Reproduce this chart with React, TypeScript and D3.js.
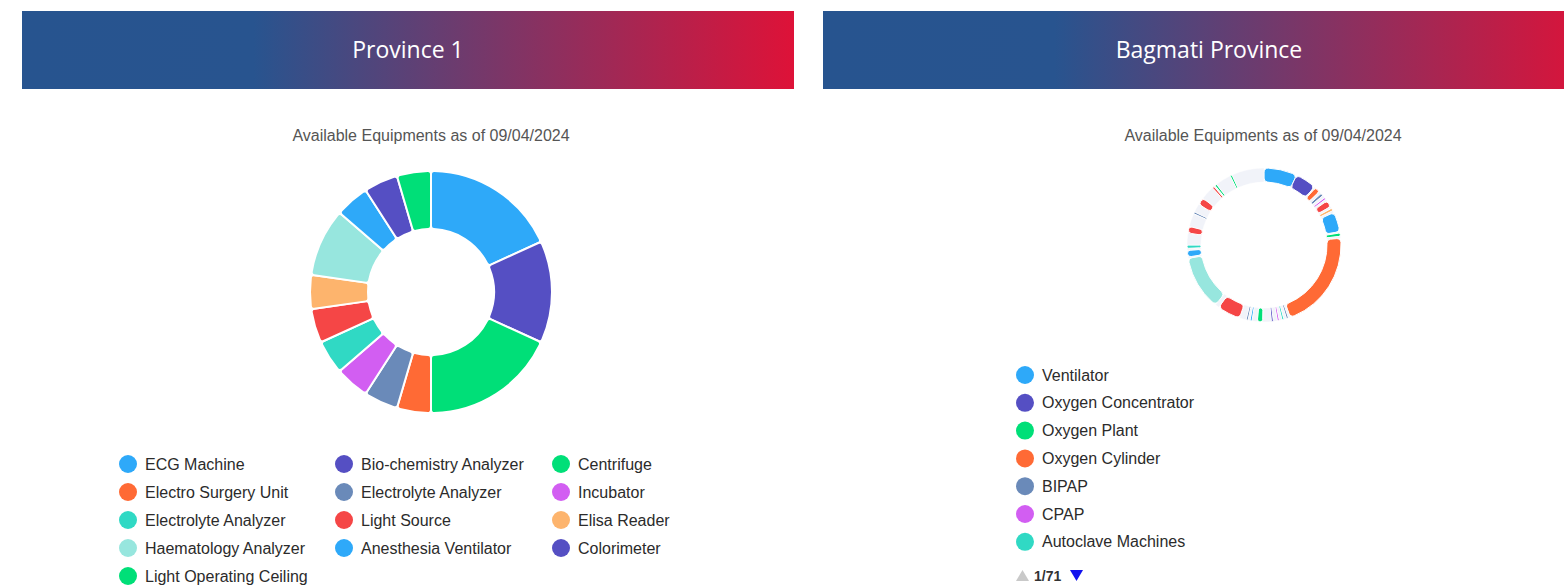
import React from 'react';
import * as d3 from 'd3';

// ApexCharts-like palette, cycled by series index
const palette = [
  '#2ea9f9', '#554fc3', '#00df78', '#ff6a35', '#6a8ab9',
  '#d25ef2', '#30d9c4', '#f54646', '#fdb46d', '#97e6de',
];

const subtitle = 'Available Equipments as of 09/04/2024';

const province1Labels = [
  'ECG Machine', 'Bio-chemistry Analyzer', 'Centrifuge',
  'Electro Surgery Unit', 'Electrolyte Analyzer', 'Incubator',
  'Electrolyte Analyzer', 'Light Source', 'Elisa Reader',
  'Haematology Analyzer', 'Anesthesia Ventilator', 'Colorimeter',
  'Light Operating Ceiling',
];
const province1Values = [4, 3, 4, 1, 1, 1, 1, 1, 1, 2, 1, 1, 1];

const bagmatiLabels = [
  'Ventilator', 'Oxygen Concentrator', 'Oxygen Plant', 'Oxygen Cylinder',
  'BIPAP', 'CPAP', 'Autoclave Machines',
];
const bagmatiPage = '1/71';
// ring segments in drawing order; slot = palette index of the series, -1 = the many near-empty categories
const bagmatiValues = [
  25, 16, 1, 4, 2, 2, 2, 1.5, 1.5, 5, 1.5, 2, 1.5, 15, 1, 2.5, 1.5,
  75, 1.5, 1.5, 2, 1.5, 2, 1.5, 3, 1.5, 6.5, 4, 4, 1.5, 1.5, 1.5, 5,
  17.5, 3, 41, 1, 5, 1.5, 2.5, 9, 5, 10, 1.5, 6.5, 5.5, 10.5, 1.5, 1, 1.5,
  12, 1.5, 24.5,
];
const bagmatiSlots = [
  0, 1, -1, 3, -1, 4, -1, 5, -1, 7, -1, 8, -1, 0, -1, 2, -1,
  3, -1, 4, -1, 6, -1, 5, -1, 1, -1, 2, -1, 0, -1, 4, -1,
  7, -1, 9, -1, 0, -1, 6, -1, 7, -1, 4, -1, 7, -1, 7, -1, 2,
  -1, 2, -1,
];

const FONT = '"Liberation Sans", Arial, Helvetica, sans-serif';
const TITLE_FONT = '"Open Sans", Lato, sans-serif';
const PALE = '#f1f3f9';

const Header: React.FC<{ x: number; title: string; id: string }> = ({ x, title, id }) => (
  <g>
    <defs>
      <linearGradient id={id} x1="0" x2="1" y1="0" y2="0">
        <stop offset="0" stopColor="#27548f" />
        <stop offset="0.3" stopColor="#28548f" />
        <stop offset="1" stopColor="#de1238" />
      </linearGradient>
    </defs>
    <rect x={x} y={11} width={772} height={78} fill={`url(#${id})`} />
    <text x={x + 386} y={58} textAnchor="middle" fill="#fff" fontSize={23} fontFamily={TITLE_FONT}>
      {title}
    </text>
  </g>
);

const LegendItem: React.FC<{ x: number; y: number; color: string; label: string }> = ({ x, y, color, label }) => (
  <g>
    <circle cx={x} cy={y} r={9} fill={color} />
    <text x={x + 17} y={y + 5.5} fontSize={16} fill="#2b2b2b" fontFamily={FONT}>{label}</text>
  </g>
);

export default function App() {
  const pie = d3.pie<number>().sort(null).value(d => d);

  const leftArcs = pie(province1Values);
  const leftArc = d3.arc<d3.PieArcDatum<number>>().innerRadius(63).outerRadius(121).cornerRadius(3);

  const rightArcs = pie(bagmatiValues);
  const rightArc = d3.arc<d3.PieArcDatum<number>>().innerRadius(63).outerRadius(77).cornerRadius(4);
  const paleArc = d3.arc<d3.PieArcDatum<number>>().innerRadius(63).outerRadius(77);

  const leftCols = [128, 344, 561];

  return (
    <svg width={1564} height={587} style={{ position: 'absolute', left: 0, top: 0, background: '#fff' }}>
      <Header x={22} title="Province 1" id="g1" />
      <Header x={823} title="Bagmati Province" id="g2" />

      <text x={431} y={141} textAnchor="middle" fontSize={16} fill="#555" fontFamily={FONT}>{subtitle}</text>
      <text x={1263} y={141} textAnchor="middle" fontSize={16} fill="#555" fontFamily={FONT}>{subtitle}</text>

      <g transform="translate(431,292)">
        {leftArcs.map((d, i) => (
          <path key={i} d={leftArc(d)!} fill={palette[i % palette.length]} stroke="#fff" strokeWidth={2} />
        ))}
      </g>

      <g transform="translate(1264,245)">
        {rightArcs.map((d, i) => {
          const slot = bagmatiSlots[i];
          return slot < 0 ? (
            <path key={i} d={paleArc(d)!} fill={PALE} stroke="#fff" strokeWidth={0.5} />
          ) : (
            <path key={i} d={rightArc(d)!} fill={palette[slot]} stroke="#fff" strokeWidth={1} />
          );
        })}
      </g>

      {province1Labels.map((label, i) => (
        <LegendItem
          key={i}
          x={leftCols[i % 3]}
          y={464 + Math.floor(i / 3) * 28}
          color={palette[i % palette.length]}
          label={label}
        />
      ))}

      {bagmatiLabels.map((label, i) => (
        <LegendItem key={i} x={1025} y={375 + i * 27.8} color={palette[i % palette.length]} label={label} />
      ))}

      <g>
        <path d="M1016,581 L1022.5,570 L1029,581 Z" fill="#c9c9c9" />
        <text x={1034} y={581} fontSize={14} fontWeight="bold" fill="#333" fontFamily={FONT}>{bagmatiPage}</text>
        <path d="M1070,570 L1083,570 L1076.5,581 Z" fill="#1212ee" />
      </g>
    </svg>
  );
}
